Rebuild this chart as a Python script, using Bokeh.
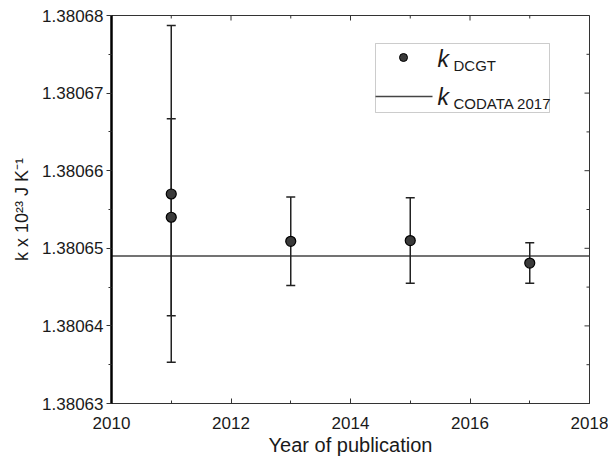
from bokeh.plotting import figure
from bokeh.models import (Range1d, FixedTicker, PrintfTickFormatter,
                          Whisker, TeeHead, ColumnDataSource, Span, BoxAnnotation, Label)
from bokeh.embed import file_html
from bokeh.resources import INLINE
import math

# ---- data ----
years = [2011, 2011, 2013, 2015, 2017]
k_dcgt = [1.380657, 1.380654, 1.3806509, 1.380651, 1.3806481]
k_unc = [0.0000217, 0.0000127, 0.0000057, 0.0000055, 0.0000026]
k_codata = 1.380649
x_ticks = [2010, 2012, 2014, 2016, 2018]
x_minor = [2011, 2013, 2015, 2017]
y_ticks = [1.38063, 1.38064, 1.38065, 1.38066, 1.38067, 1.38068]
y_minor = [1.380635, 1.380645, 1.380655, 1.380665, 1.380675]
legend_labels = ["DCGT", "CODATA 2017"]
x_title = "Year of publication"
y_title = "k x 10\u00b2\u00b3 J K\u207b\u00b9"

X0, X1 = 2010, 2018
Y0, Y1 = 1.38063, 1.38068
W, H = 608, 462
FL, FR, FT, FB = 111, 589, 15, 403  # frame edges in canvas px
FW, FH = FR - FL, FB - FT

def dx(px):
    return X0 + (px - FL) * (X1 - X0) / FW

def dy(py):
    return Y1 - (py - FT) * (Y1 - Y0) / FH

FONT = "Liberation Sans"
AX = "#333333"
TXT = "#1a1a1a"

p = figure(width=W, height=H, x_range=Range1d(X0, X1), y_range=Range1d(Y0, Y1),
           output_backend="svg", toolbar_location=None,
           min_border_left=FL, min_border_right=W - FR, min_border_top=FT,
           min_border_bottom=H - FB)
p.xgrid.visible = False
p.ygrid.visible = False
p.outline_line_color = AX
p.outline_line_width = 1
p.background_fill_color = "white"
p.border_fill_color = "white"

xa = p.xaxis[0]
xa.ticker = FixedTicker(ticks=x_ticks, minor_ticks=x_minor)
xa.axis_line_color = AX
xa.axis_line_width = 1
xa.major_tick_in = 5
xa.major_tick_out = 0
xa.minor_tick_in = 3
xa.minor_tick_out = 0
xa.major_tick_line_color = AX
xa.minor_tick_line_color = AX
xa.major_label_text_font = FONT
xa.major_label_text_font_size = "17px"
xa.major_label_text_color = TXT
xa.major_label_standoff = 13
xa.axis_label = x_title
xa.axis_label_text_font = FONT
xa.axis_label_text_font_size = "20px"
xa.axis_label_text_font_style = "normal"
xa.axis_label_text_color = TXT
xa.axis_label_standoff = 2

ya = p.yaxis[0]
ya.ticker = FixedTicker(ticks=y_ticks, minor_ticks=y_minor)
ya.formatter = PrintfTickFormatter(format="%.5f")
ya.axis_line_color = "black"
ya.axis_line_width = 2.5
ya.major_tick_in = 0
ya.major_tick_out = 5
ya.minor_tick_in = 0
ya.minor_tick_out = 3
ya.major_tick_line_color = AX
ya.minor_tick_line_color = AX
ya.major_label_text_font = FONT
ya.major_label_text_font_size = "17px"
ya.major_label_text_color = TXT
ya.major_label_standoff = 3
ya.axis_label = y_title
ya.axis_label_text_font = FONT
ya.axis_label_text_font_size = "18px"
ya.axis_label_text_font_style = "normal"
ya.axis_label_text_color = TXT
ya.axis_label_standoff = 7

# inward ticks on top and right edges (clipped to the frame)
p.scatter(x_ticks, [Y1] * len(x_ticks), marker="dash", angle=math.pi / 2, size=10,
          line_color=AX, line_width=1)
p.scatter(x_minor, [Y1] * len(x_minor), marker="dash", angle=math.pi / 2, size=6,
          line_color=AX, line_width=1)
p.scatter([X1] * len(y_ticks), y_ticks, marker="dash", size=10, line_color=AX, line_width=1)
p.scatter([X1] * len(y_minor), y_minor, marker="dash", size=6, line_color=AX, line_width=1)

# ---- CODATA line ----
span = Span(location=k_codata, dimension="width", line_color="#444444", line_width=1.5,
            level="underlay")
p.add_layout(span)

# ---- DCGT points with error bars ----
upper = [v + u for v, u in zip(k_dcgt, k_unc)]
lower = [v - u for v, u in zip(k_dcgt, k_unc)]
src = ColumnDataSource(dict(x=years, y=k_dcgt, upper=upper, lower=lower))
wh = Whisker(base="x", upper="upper", lower="lower", source=src, dimension="height",
             line_color="#222222", line_width=1.5, level="underlay",
             upper_head=TeeHead(size=9, line_color="#222222", line_width=1.5),
             lower_head=TeeHead(size=9, line_color="#222222", line_width=1.5))
p.add_layout(wh)
p.scatter("x", "y", source=src, size=10, marker="circle",
          fill_color="#3a3a3a", line_color="black", line_width=1.2)

# ---- legend ----
box = BoxAnnotation(left=dx(375), right=dx(549), top=dy(43), bottom=dy(112),
                    fill_color=None, line_color="#555555", line_width=1)
p.add_layout(box)
p.scatter([dx(403)], [dy(57)], size=8, marker="circle",
          fill_color="#3a3a3a", line_color="black")
p.segment([dx(375)], [dy(96)], [dx(432)], [dy(96)], line_color="#444444", line_width=1.5)

def lab(text, px, py, size, style="normal"):
    p.add_layout(Label(x=dx(px), y=dy(py), text=text, text_font=FONT,
                       text_font_size=size, text_font_style=style, text_color=TXT,
                       text_align="left", text_baseline="alphabetic"))

lab("k", 437, 58, "23px", "italic")
lab(legend_labels[0], 453, 65, "15px")
lab("k", 437, 96, "23px", "italic")
lab(legend_labels[1], 453, 103, "15px")

open("out.html", "w").write(file_html(p, INLINE))
